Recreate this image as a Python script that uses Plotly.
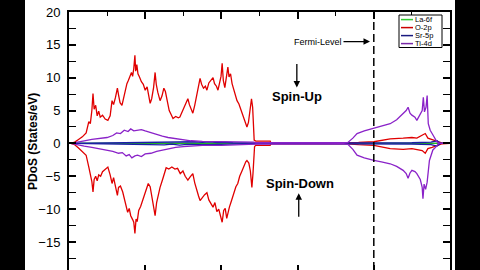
import plotly.graph_objects as go

# ---------------- data ----------------
orbitals = ["La-6f", "O-2p", "Sr-5p", "Ti-4d"]
colors = ["#22b522", "#e00000", "#1c1ca8", "#8a22c8"]
legend_colors = ["#33cc33", "#cc0000", "#1a1a80", "#7a2aa8"]

la6f_E = [-8.0, -6.0, -4.0, -2.0, 0.0, 2.0]
la6f_up = [0, 0, 0, 0, 0, 0]
la6f_dn = [0, 0, 0, 0, 0, 0]

o2p_up_E = [-7.95, -7.85, -7.75, -7.65, -7.55, -7.48, -7.44, -7.40, -7.37, -7.34, -7.30, -7.26, -7.22, -7.18,
            -7.12, -7.05, -6.98, -6.92, -6.87, -6.83, -6.78, -6.73, -6.70, -6.66, -6.61, -6.57, -6.52, -6.48,
            -6.44, -6.40, -6.36, -6.33, -6.30, -6.27, -6.25, -6.22, -6.19, -6.15, -6.10, -6.05, -6.00, -5.95,
            -5.90, -5.87, -5.83, -5.78, -5.74, -5.71, -5.67, -5.64, -5.61, -5.56, -5.51, -5.47, -5.42, -5.37,
            -5.32, -5.27, -5.20, -5.13, -5.09, -5.03, -4.97, -4.92, -4.88, -4.84, -4.80, -4.75, -4.70, -4.65,
            -4.60, -4.56, -4.52, -4.47, -4.42, -4.38, -4.33, -4.28, -4.22, -4.18, -4.13, -4.09, -4.05, -4.01,
            -3.98, -3.95, -3.91, -3.87, -3.83, -3.80, -3.76, -3.72, -3.68, -3.63, -3.59, -3.54, -3.50, -3.46,
            -3.41, -3.37, -3.33, -3.29, -3.25, -3.21, -3.18, -3.16, -3.14, -3.10, -2.72, -2.70, -0.70, -0.40,
            0.0, 0.43, 0.77, 1.00, 1.13, 1.27, 1.35, 1.42, 1.53, 1.66, 1.80, 2.0]
o2p_up = [0, 0.2, 0.6, 1.0, 1.6, 3.3, 3.0, 5.0, 7.6, 5.2, 5.8, 4.2, 4.9, 4.0,
          4.3, 3.7, 3.5, 4.2, 6.5, 5.9, 7.0, 8.4, 7.4, 6.2, 5.8, 6.8, 7.6, 9.1,
          9.6, 10.3, 10.8, 10.2, 11.4, 13.4, 11.0, 12.0, 10.6, 10.1, 9.4, 9.0, 8.1, 8.6,
          7.2, 6.1, 6.8, 8.5, 10.8, 9.0, 7.8, 7.0, 6.5, 7.2, 8.4, 7.9, 6.4, 5.0,
          4.4, 3.8, 4.1, 3.9, 4.0, 4.8, 5.6, 6.1, 6.8, 5.9, 5.2, 4.6, 5.8, 7.4,
          8.6, 9.9, 9.0, 8.4, 8.7, 8.1, 9.2, 9.6, 10.0, 9.1, 8.7, 8.1, 9.4, 10.2,
          12.2, 9.6, 8.5, 10.3, 11.6, 10.1, 10.6, 9.1, 8.3, 7.6, 6.5, 6.0, 5.3, 4.6,
          3.8, 3.0, 2.5, 3.2, 4.8, 6.8, 5.5, 2.0, 0.5, 0.35, 0.35, 0.05, 0.05, 0.15,
          0.25, 0.7, 0.8, 0.9, 0.8, 1.2, 1.5, 0.8, 0.6, 0.3, 0.05, 0]

o2p_dn_E = [-7.95, -7.85, -7.75, -7.65, -7.55, -7.48, -7.44, -7.40, -7.37, -7.34, -7.30, -7.26, -7.22, -7.17,
            -7.12, -7.05, -6.98, -6.92, -6.87, -6.83, -6.78, -6.73, -6.70, -6.65, -6.59, -6.54, -6.50, -6.46,
            -6.42, -6.38, -6.33, -6.30, -6.27, -6.24, -6.21, -6.17, -6.12, -6.07, -6.02, -5.97, -5.92, -5.87,
            -5.82, -5.78, -5.74, -5.70, -5.66, -5.61, -5.55, -5.50, -5.45, -5.38, -5.30, -5.22, -5.15, -5.08,
            -5.01, -4.95, -4.88, -4.82, -4.75, -4.70, -4.65, -4.60, -4.56, -4.50, -4.44, -4.38, -4.33, -4.27,
            -4.22, -4.17, -4.12, -4.07, -4.02, -3.98, -3.94, -3.90, -3.86, -3.83, -3.79, -3.74, -3.68, -3.62,
            -3.57, -3.52, -3.46, -3.40, -3.36, -3.33, -3.28, -3.24, -3.20, -3.17, -3.15, -3.13, -3.10, -2.72,
            -2.70, -0.70, -0.40, 0.0, 0.43, 0.77, 1.00, 1.13, 1.27, 1.35, 1.42, 1.53, 1.66, 1.80, 2.0]
o2p_dn = [0, -0.2, -0.7, -1.2, -1.8, -3.6, -4.5, -5.8, -7.4, -5.5, -5.0, -5.7, -4.8, -5.0,
          -4.3, -4.0, -3.6, -4.8, -6.1, -5.2, -6.6, -7.9, -6.7, -6.5, -7.4, -8.6, -9.5, -10.5,
          -9.9, -11.0, -11.6, -12.0, -13.7, -11.5, -11.9, -10.2, -9.6, -8.8, -7.8, -6.9, -6.1, -6.6,
          -8.4, -9.8, -11.0, -9.0, -7.8, -6.7, -5.6, -4.8, -3.7, -3.9, -3.6, -3.9, -3.8, -4.6,
          -4.2, -5.0, -5.6, -5.1, -4.6, -6.0, -7.2, -8.0, -8.7, -8.2, -7.8, -7.5, -8.6, -9.2,
          -9.7, -9.0, -10.4, -10.0, -11.2, -12.0, -10.2, -9.9, -11.4, -10.6, -9.7, -8.8, -7.6, -6.6,
          -6.1, -5.0, -4.2, -3.3, -2.8, -2.6, -3.0, -4.2, -6.7, -4.5, -1.5, -0.5, -0.3, -0.3,
          -0.05, -0.05, -0.2, -0.3, -0.8, -0.9, -0.8, -1.0, -1.1, -1.5, -0.8, -0.6, -0.3, -0.05, 0]

sr5p_E = [-7.9, -7.5, -7.0, -6.5, -6.3, -6.1, -5.9, -5.7, -5.5, -5.3, -5.1, -4.9, -4.7, -4.5, -4.3,
          -4.1, -3.9, -3.7, -3.5, -3.2, -3.0, 1.0, 1.5, 1.66, 1.75, 2.0]
sr5p_up = [0, 0.03, 0.06, 0.1, 0.18, 0.1, 0.2, 0.12, 0.22, 0.15, 0.25, 0.18, 0.25, 0.15, 0.22,
           0.12, 0.2, 0.1, 0.08, 0.05, 0.03, 0.1, 0.2, 0.4, 0, 0]
sr5p_dn = [0, -0.03, -0.06, -0.1, -0.15, -0.12, -0.2, -0.15, -0.22, -0.12, -0.25, -0.15, -0.22, -0.18, -0.2,
           -0.15, -0.18, -0.1, -0.08, -0.05, -0.03, -0.1, -0.2, -0.4, 0, 0]

ti4d_up_E = [-7.95, -7.80, -7.60, -7.40, -7.20, -7.00, -6.85, -6.75, -6.65, -6.55, -6.45, -6.38, -6.30,
             -6.20, -6.10, -6.00, -5.85, -5.70, -5.55, -5.40, -5.20, -5.00, -4.80, -4.50, -4.00, -3.50,
             -3.15, -3.10, -0.80, -0.68, -0.55, -0.44, -0.25, 0.0, 0.20, 0.43, 0.60, 0.77, 0.85, 0.90,
             0.95, 1.00, 1.08, 1.13, 1.20, 1.27, 1.30, 1.33, 1.37, 1.40, 1.43, 1.48, 1.53, 1.60, 1.66,
             1.72, 2.0]
ti4d_up = [0, 0.2, 0.4, 0.6, 0.8, 0.9, 1.2, 1.6, 1.5, 2.0, 1.8, 2.2, 1.9,
           2.0, 2.1, 1.9, 1.6, 1.3, 1.1, 0.9, 0.7, 0.5, 0.4, 0.3, 0.3, 0.25,
           0.2, 0.1, 0.05, 0.15, 0.8, 1.5, 1.9, 2.3, 2.6, 3.0, 3.6, 4.6, 5.0, 5.5,
           4.6, 4.3, 4.0, 3.5, 4.2, 5.0, 7.0, 4.8, 5.5, 7.3, 3.0, 2.0, 1.5, 0.8, 0.2,
           0, 0]

ti4d_dn_E = [-7.95, -7.80, -7.60, -7.40, -7.20, -7.00, -6.85, -6.70, -6.60, -6.50, -6.42, -6.35, -6.27,
             -6.20, -6.10, -6.00, -5.85, -5.70, -5.55, -5.40, -5.20, -5.00, -4.80, -4.50, -4.00, -3.50,
             -3.15, -3.10, -0.80, -0.68, -0.55, -0.44, -0.25, 0.0, 0.20, 0.43, 0.60, 0.77, 0.85, 0.90,
             0.95, 1.00, 1.08, 1.13, 1.22, 1.27, 1.29, 1.32, 1.36, 1.40, 1.46, 1.55, 1.62, 1.70, 2.0]
ti4d_dn = [0, -0.2, -0.4, -0.6, -0.8, -1.0, -1.2, -1.5, -1.4, -1.9, -1.7, -2.2, -1.9,
           -1.8, -2.0, -1.6, -1.5, -1.2, -1.0, -0.8, -0.6, -0.5, -0.4, -0.3, -0.3, -0.2,
           -0.2, -0.1, -0.05, -0.15, -0.9, -1.8, -2.2, -2.6, -2.8, -3.1, -3.5, -4.1, -4.6, -5.3,
           -4.5, -4.1, -4.3, -4.6, -5.5, -6.7, -8.4, -6.2, -7.0, -5.9, -2.6, -1.0, -0.6, 0, 0]

y_ticks = [-15, -10, -5, 0, 5, 10, 15, 20]
annotation_texts = ["Fermi-Level", "Spin-Up", "Spin-Down"]
fermi_level = 0.0

# ---------------- figure ----------------
W, H = 480, 270
ML, MR, MT, MB = 69, 30, 12, 0
PW, PH = W - ML - MR, H - MT - MB


def px_x(px):
    return (px - ML) / PW


def px_y(py):
    return (H - MB - py) / PH


FONT = "Liberation Sans, Arial, sans-serif"

series = [
    (la6f_E, la6f_up, la6f_E, la6f_dn),
    (o2p_up_E, o2p_up, o2p_dn_E, o2p_dn),
    (sr5p_E, sr5p_up, sr5p_E, sr5p_dn),
    (ti4d_up_E, ti4d_up, ti4d_dn_E, ti4d_dn),
]

fig = go.Figure()
for name, col, (eu, vu, ed, vd) in zip(orbitals, colors, series):
    fig.add_trace(go.Scatter(x=eu, y=vu, mode="lines", name=name,
                             line=dict(color=col, width=1.3), showlegend=False))
    fig.add_trace(go.Scatter(x=ed, y=vd, mode="lines", name=name,
                             line=dict(color=col, width=1.3), showlegend=False))

# invisible trace to carry the top axis
fig.add_trace(go.Scatter(x=[-8, 2], y=[0, 0], xaxis="x2", mode="lines",
                         line=dict(width=0), hoverinfo="skip", showlegend=False))

shapes = []
# side black bars
shapes.append(dict(type="rect", xref="paper", yref="paper", x0=px_x(-5), x1=px_x(25),
                   y0=-0.2, y1=1.3, fillcolor="black", line=dict(width=0), layer="above"))
shapes.append(dict(type="rect", xref="paper", yref="paper", x0=px_x(455), x1=px_x(485),
                   y0=-0.2, y1=1.3, fillcolor="black", line=dict(width=0), layer="above"))
# Fermi level
shapes.append(dict(type="line", xref="x", yref="paper", x0=fermi_level, x1=fermi_level,
                   y0=0, y1=1, line=dict(color="black", width=1.5, dash="8px,4px")))

# custom legend
lg_x0, lg_x1, lg_y0, lg_y1 = 399, 442, 15, 47.5
shapes.append(dict(type="rect", xref="paper", yref="paper", x0=px_x(lg_x0), x1=px_x(lg_x1),
                   y0=px_y(lg_y1), y1=px_y(lg_y0), line=dict(color="black", width=1),
                   fillcolor="white"))
annotations = []
row_y = [19.6, 27.6, 35.6, 43.6]
for name, col, ry in zip(orbitals, legend_colors, row_y):
    shapes.append(dict(type="line", xref="paper", yref="paper", x0=px_x(401), x1=px_x(413),
                       y0=px_y(ry), y1=px_y(ry), line=dict(color=col, width=1.5)))
    annotations.append(dict(xref="paper", yref="paper", x=px_x(414), y=px_y(ry),
                            xanchor="left", yanchor="middle", text=name, showarrow=False,
                            borderpad=0,
                            font=dict(family=FONT, size=7.5, color="black")))

# texts and arrows
annotations.append(dict(xref="x", yref="y", x=-0.1, y=15.5, ax=-52, ay=0,
                        text=annotation_texts[0], showarrow=True, arrowhead=2, arrowsize=1,
                        arrowwidth=1.3, arrowcolor="black",
                        font=dict(family=FONT, size=9, color="black")))
annotations.append(dict(xref="x", yref="y", x=-2.02, y=7.15, text="<b>%s</b>" % annotation_texts[1],
                        showarrow=False, font=dict(family=FONT, size=13, color="black")))
annotations.append(dict(xref="x", yref="y", x=-2.02, y=8.5, ax=0, ay=-25, text="",
                        showarrow=True, arrowhead=2, arrowsize=1, arrowwidth=1.3, arrowcolor="black"))
annotations.append(dict(xref="x", yref="y", x=-1.94, y=-6.1, text="<b>%s</b>" % annotation_texts[2],
                        showarrow=False, font=dict(family=FONT, size=13, color="black")))
annotations.append(dict(xref="x", yref="y", x=-1.97, y=-7.6, ax=0, ay=25, text="",
                        showarrow=True, arrowhead=2, arrowsize=1, arrowwidth=1.3, arrowcolor="black"))
# y-axis title
annotations.append(dict(xref="paper", yref="paper", x=px_x(33), y=px_y(142), textangle=-90,
                        xanchor="center", yanchor="middle", text="<b>PDoS (States/eV)</b>",
                        showarrow=False, font=dict(family=FONT, size=12, color="black")))

fig.update_layout(
    width=W, height=H,
    margin=dict(l=ML, r=MR, t=MT, b=MB, pad=0),
    paper_bgcolor="white", plot_bgcolor="white",
    showlegend=False,
    shapes=shapes, annotations=annotations,
    xaxis=dict(range=[-8, 2], showgrid=False, zeroline=False, showline=False,
               ticks="inside", dtick=2, tick0=0, ticklen=5, tickwidth=1.5, tickcolor="black",
               showticklabels=False),
    xaxis2=dict(range=[-8, 2], overlaying="x", side="top", anchor="y", showgrid=False,
                zeroline=False, showline=True, linewidth=2, linecolor="black",
                ticks="inside", dtick=2, tick0=0, ticklen=7, tickwidth=1.5, tickcolor="black",
                minor=dict(dtick=1, ticklen=4, tickwidth=1.2, tickcolor="black", ticks="inside"),
                showticklabels=False),
    yaxis=dict(range=[-19.27, 20], showgrid=False, zeroline=False, showline=True,
               linewidth=2, linecolor="black", mirror="allticks",
               ticks="inside", tickvals=y_ticks, ticklen=7, tickwidth=1.5, tickcolor="black",
               minor=dict(dtick=2.5, ticklen=4, tickwidth=1.2, tickcolor="black", ticks="inside"),
               tickfont=dict(family=FONT, size=13, color="black"), ticklabelstandoff=4),
)

fig.write_html("out.html")
